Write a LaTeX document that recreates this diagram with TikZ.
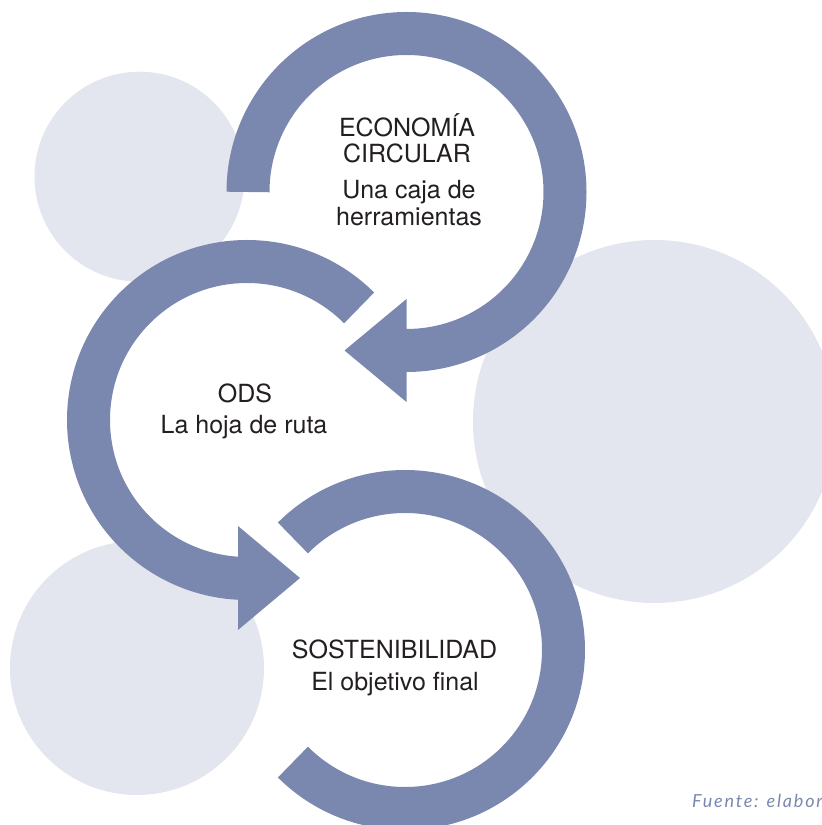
\documentclass[tikz,border=0pt]{standalone}
\usepackage{fontspec}
\setmainfont{TeX Gyre Heros}
\newfontfamily\srcfont{Lato}[LetterSpace=10]
\definecolor{ring}{HTML}{7A88B0}
\definecolor{bgc}{HTML}{E3E6EE}
\definecolor{txt}{HTML}{231F20}
\begin{document}
\begin{tikzpicture}[x=1pt,y=1pt,
  ringarc/.style={draw=ring, line width=43pt, line cap=butt},
  ringhead/.style={fill=ring},
  bgdisc/.style={fill=bgc},
  lbl/.style={font=\fontsize{25}{30}\selectfont, text=txt, inner sep=0pt, anchor=base},
  src/.style={font=\srcfont\itshape\fontsize{18}{21}\selectfont, text=ring, inner sep=0pt, anchor=base west}]
\useasboundingbox (0,0) rectangle (822,825);
% background discs
\fill[bgdisc] (139.5,648.3) circle[radius=105];
\fill[bgdisc] (654.5,403.5) circle[radius=181.5];
\fill[bgdisc] (137,157) circle[radius=127];
% ring centres
\coordinate (c1) at (406.5,633);
\coordinate (c2) at (247,405);
\coordinate (c3) at (405,175);
% top ring with arrow
\draw[ringarc] (c1) ++(180:158.5) arc[start angle=180,end angle=-91,radius=158.5];
\fill[ringhead] (406.5,526) -- (344.5,474.5) -- (406.5,423) -- cycle;
% middle ring with arrow
\draw[ringarc] (c2) ++(45:158.5) arc[start angle=45,end angle=268,radius=158.5];
\fill[ringhead] (238,299) -- (300,247) -- (238,195) -- cycle;
% bottom ring
\draw[ringarc] (c3) ++(135:158.5) arc[start angle=135,end angle=-135,radius=158.5];
% texts
\node[lbl] (eco1) at (407,688) {ECONOMÍA};
\node[lbl] (eco2) at (407,662) {CIRCULAR};
\node[lbl] (eco3) at (409,626) {Una caja de};
\node[lbl] (eco4) at (409,599) {herramientas};
\node[lbl] (ods1) at (245,422) {ODS};
\node[lbl] (ods2) at (244,391) {La hoja de ruta};
\node[lbl] (sos1) at (394.5,166) {SOSTENIBILIDAD};
\node[lbl] (sos2) at (395,134) {El objetivo final};
\node[src] (src) at (692,17) {Fuente: elabor};
\end{tikzpicture}
\end{document}
